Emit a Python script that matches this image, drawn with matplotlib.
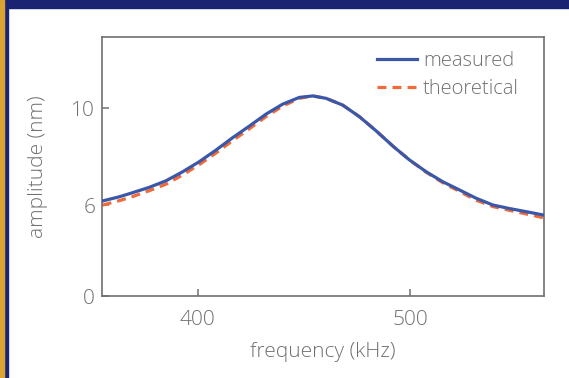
import numpy as np
import matplotlib.pyplot as plt
from matplotlib.patches import Rectangle

# values
freq = [355.3, 363.1, 369.4, 377.2, 385.1, 392.9, 400.8, 408.7, 416.5, 424.4,
        432.2, 440.0, 447.9, 454.2, 460.5, 468.3, 476.2, 484.0, 491.9, 499.7,
        507.6, 515.4, 523.3, 531.1, 539.0, 546.8, 554.7, 562.5]
measured = [6.17, 6.34, 6.51, 6.73, 7.00, 7.37, 7.79, 8.27, 8.78, 9.26,
            9.75, 10.16, 10.44, 10.50, 10.40, 10.12, 9.64, 9.06, 8.43, 7.86,
            7.37, 6.96, 6.62, 6.28, 6.00, 5.77, 5.56, 5.35]
theoretical = [6.00, 6.18, 6.35, 6.59, 6.86, 7.24, 7.67, 8.15, 8.66, 9.15,
               9.65, 10.08, 10.40, 10.50, 10.40, 10.12, 9.64, 9.06, 8.43, 7.86,
               7.35, 6.92, 6.56, 6.20, 5.90, 5.65, 5.41, 5.17]
xticks = [400, 500]
yticks = [0, 6, 10]

GRAY = '#707070'
NAVY = '#1b2473'

plt.rcParams['font.family'] = ['Open Sans', 'DejaVu Sans']
plt.rcParams['font.weight'] = 'light'
plt.rcParams['axes.labelweight'] = 'light'


# the y axis is broken: 0..6 is squeezed into the space of 2.25..6
def forward(y):
    return np.interp(y, [0, 6, 100], [2.25, 6, 100])


def inverse(y):
    return np.interp(y, [2.25, 6, 100], [0, 6, 100])


fig = plt.figure(figsize=(5.69, 3.78), dpi=100)
fig.patch.set_facecolor('white')
fig.patches.append(Rectangle((0, 1 - 8 / 378), 1, 8 / 378, transform=fig.transFigure,
                             color=NAVY, zorder=0))
fig.patches.append(Rectangle((0, 0), 8 / 569, 1, transform=fig.transFigure,
                             color=NAVY, zorder=0))
fig.patches.append(Rectangle((0, 0), 4 / 569, 1, transform=fig.transFigure,
                             color='#d9a431', zorder=0))

ax = fig.add_axes([102 / 569, 1 - 296 / 378, 442 / 569, 259 / 378])
ax.set_yscale('function', functions=(forward, inverse))

ax.plot(freq, measured, color='#3b57a8', lw=2.3, label='measured', zorder=3)
ax.plot(freq, theoretical, color='#f2693a', lw=2.3, ls=(0, (2.8, 1.9)),
        label='theoretical', zorder=2)

ax.set_xlim(355, 563)
ax.set_ylim(0, 12.93)
ax.set_xticks(xticks)
ax.set_yticks(yticks)
ax.minorticks_off()
ax.tick_params(direction='in', length=5, width=1.1, color=GRAY,
               labelcolor=GRAY, labelsize=15, pad=5)
ax.tick_params(axis='x', pad=10)
for s in ax.spines.values():
    s.set_color(GRAY)
    s.set_linewidth(1.2)

ax.set_xlabel('frequency (kHz)', color=GRAY, fontsize=15, labelpad=9)
ax.set_ylabel('amplitude (nm)', color=GRAY, fontsize=15, labelpad=17)

leg = ax.legend(loc='upper right', frameon=False, fontsize=14.5, handlelength=2.0,
                handletextpad=0.3, labelspacing=0.4, borderaxespad=0.3,
                bbox_to_anchor=(0.975, 1.0))
for t in leg.get_texts():
    t.set_color(GRAY)

fig.savefig('out.png', dpi=100, facecolor=fig.get_facecolor())
